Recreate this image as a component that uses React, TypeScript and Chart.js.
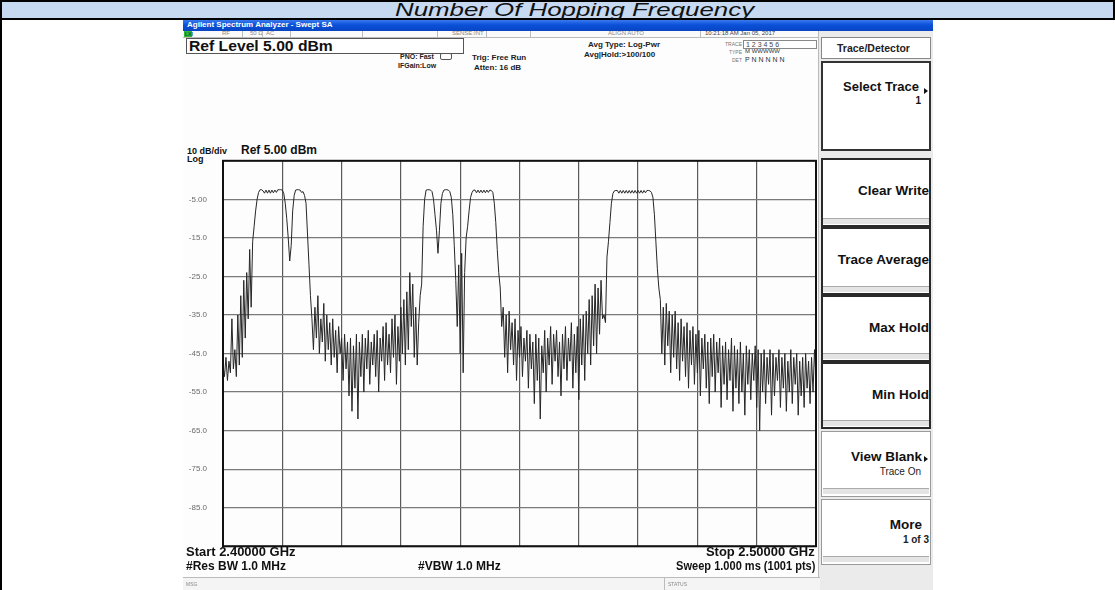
import React, { useEffect, useRef } from "react";
import { Chart, registerables } from "chart.js";

Chart.register(...registerables);

// Sweep: 2.400 GHz to 2.500 GHz, trace read every 0.25 MHz
const START_MHZ = 2400;
const STOP_MHZ = 2500;
const STEP_MHZ = 0.25;

// Trace 1 level (dBm), one value per 0.25 MHz (401 values)
const LEVELS_DBM = [
  -48, -51, -46, -52, -47, -50, -36, -49, -44, -51,
  -35, -48, -30, -46, -26, -41, -24, -36, -18, -33,
  -16, -12, -8, -5, -3.2, -2.5, -2.5, -2.8, -3.4, -2.6,
  -3.4, -2.6, -3.4, -2.6, -3.3, -2.6, -3.2, -2.5, -2.5, -2.5,
  -2.6, -3.5, -6, -10, -15, -21, -17, -8, -4, -2.6,
  -2.5, -2.5, -2.6, -3.2, -3.0, -4, -6, -14, -22, -30,
  -36, -44, -33, -41, -30, -45, -36, -42, -32, -47,
  -35, -44, -37, -48, -36, -46, -39, -50, -38, -45,
  -41, -52, -40, -49, -42, -56, -41, -60, -43, -54,
  -40, -62, -42, -51, -40, -55, -41, -49, -39, -53,
  -42, -48, -40, -51, -39, -55, -41, -47, -38, -52,
  -37, -48, -40, -50, -36, -46, -35, -53, -38, -47,
  -33, -45, -31, -48, -29, -44, -24, -38, -27, -46,
  -33, -48, -37, -30, -27, -12, -5, -2.6, -2.5, -2.5,
  -2.6, -3, -5, -9, -13, -19, -13, -6, -3.5, -2.6,
  -2.5, -2.5, -2.6, -3, -4.5, -9, -17, -26, -38, -22,
  -45, -19, -50, -24, -15, -12, -8, -4.5, -3.2, -2.6,
  -2.6, -3.3, -2.6, -3.3, -2.6, -3.3, -2.6, -3.3, -2.6, -3.2,
  -2.6, -2.7, -3.2, -6, -11, -18, -24, -28, -38, -33,
  -46, -35, -50, -34, -44, -37, -48, -36, -52, -39,
  -46, -38, -51, -41, -47, -39, -54, -40, -49, -42,
  -58, -40, -52, -41, -62, -43, -50, -39, -55, -41,
  -48, -38, -53, -40, -47, -39, -51, -42, -56, -40,
  -49, -38, -52, -41, -47, -37, -54, -40, -50, -38,
  -57, -36, -48, -35, -52, -34, -45, -31, -48, -30,
  -43, -27, -45, -28, -40, -26, -36, -35, -37, -20,
  -16, -11, -6, -3.5, -2.8, -2.7, -2.7, -3.4, -2.7, -3.4,
  -2.7, -3.4, -2.7, -3.4, -2.7, -3.4, -2.7, -3.4, -2.7, -3.4,
  -2.7, -3.4, -2.7, -3.4, -2.7, -3.3, -2.7, -2.7, -2.8, -3.2,
  -4.5, -9, -16, -23, -28, -31, -45, -33, -48, -32,
  -43, -34, -50, -35, -46, -34, -49, -37, -52, -36,
  -47, -38, -51, -37, -54, -39, -48, -38, -53, -40,
  -50, -39, -56, -41, -49, -40, -54, -42, -58, -41,
  -51, -40, -55, -42, -50, -41, -59, -43, -53, -42,
  -57, -44, -52, -41, -60, -43, -54, -44, -58, -42,
  -55, -45, -61, -43, -53, -44, -57, -45, -52, -43,
  -59, -44, -65, -45, -55, -44, -58, -46, -53, -44,
  -61, -45, -56, -46, -52, -44, -59, -46, -54, -45,
  -60, -47, -55, -44, -58, -46, -53, -45, -61, -47,
  -56, -46, -59, -45, -54, -47, -58, -46, -55, -44,
  -52,
];

const Y_MAX = 5;
const Y_MIN = -95;
const Y_STEP = 10;
const X_STEP_MHZ = 10;

const SOFTKEYS = [
  { label: "Clear Write", sub: "", top: 158, h: 69, active: true },
  { label: "Trace Average", sub: "", top: 227, h: 68, active: true },
  { label: "Max Hold", sub: "", top: 295, h: 67, active: true },
  { label: "Min Hold", sub: "", top: 362, h: 67, active: true },
  { label: "View Blank", sub: "Trace On", top: 431, h: 66, active: false },
  { label: "More", sub: "1 of 3", top: 499, h: 66, active: false },
];

const FONT = "'Liberation Sans', Arial, sans-serif";

function T(props: { x: number; y: number; size: number; bold?: boolean; color?: string; right?: boolean; children: React.ReactNode; italic?: boolean; sx?: number }) {
  const { x, y, size, bold, color, right, children, italic, sx } = props;
  const style: React.CSSProperties = {
    position: "absolute",
    top: y - size * 0.6,
    fontSize: size,
    lineHeight: `${size * 1.2}px`,
    fontWeight: bold ? 700 : 400,
    fontStyle: italic ? "italic" : "normal",
    color: color || "#111",
    whiteSpace: "nowrap",
    fontFamily: FONT,
  };
  if (sx) {
    style.transform = `scaleX(${sx})`;
    style.transformOrigin = right ? "right center" : "left center";
  }
  if (right) style.right = 1115 - x;
  else style.left = x;
  return <div style={style}>{children}</div>;
}

function Box(props: { x: number; y: number; w: number; h: number; style?: React.CSSProperties; children?: React.ReactNode }) {
  return (
    <div style={{ position: "absolute", left: props.x, top: props.y, width: props.w, height: props.h, boxSizing: "border-box", ...props.style }}>
      {props.children}
    </div>
  );
}

export default function App() {
  const canvasRef = useRef<HTMLCanvasElement | null>(null);

  useEffect(() => {
    const canvas = canvasRef.current;
    if (!canvas) return;
    const points = LEVELS_DBM.map((v, i) => ({ x: START_MHZ + i * STEP_MHZ, y: v }));
    const frame = {
      id: "frame",
      afterDraw(chart: any) {
        const { ctx, chartArea } = chart;
        ctx.save();
        ctx.strokeStyle = "#111";
        ctx.lineWidth = 2;
        ctx.strokeRect(chartArea.left, chartArea.top, chartArea.right - chartArea.left, chartArea.bottom - chartArea.top);
        ctx.restore();
      },
    };
    const chart = new Chart(canvas, {
      type: "line",
      data: {
        datasets: [
          {
            data: points,
            borderColor: "#262626",
            borderWidth: 1,
            pointRadius: 0,
            tension: 0,
            fill: false,
          },
        ],
      },
      options: {
        animation: false,
        responsive: false,
        maintainAspectRatio: false,
        layout: { padding: { top: 6, right: 2, bottom: 1, left: 0 } },
        plugins: { legend: { display: false }, tooltip: { enabled: false } },
        scales: {
          x: {
            type: "linear",
            min: START_MHZ,
            max: STOP_MHZ,
            ticks: { display: false, stepSize: X_STEP_MHZ },
            grid: { color: "#5a5a5a", lineWidth: 1.2, drawTicks: false },
            border: { display: false },
            afterFit: (s: any) => {
              s.height = 0;
            },
          },
          y: {
            min: Y_MIN,
            max: Y_MAX,
            ticks: {
              stepSize: Y_STEP,
              padding: 16,
              color: "#6a6a6a",
              font: { family: FONT, size: 8 },
              callback: (v: any) => {
                const n = Number(v);
                if (n === Y_MAX || n === Y_MIN) return "";
                return n === -5 ? n.toFixed(2) : n.toFixed(1);
              },
            },
            grid: { color: "#7a7a7a", lineWidth: 1.2, drawTicks: false },
            border: { display: false },
            afterFit: (s: any) => {
              s.width = 40;
            },
          },
        },
      },
      plugins: [frame],
    } as any);
    return () => chart.destroy();
  }, []);

  return (
    <div style={{ position: "relative", width: 1115, height: 590, overflow: "hidden", background: "#fff", fontFamily: FONT }}>
      <style>{`body{margin:0}`}</style>
      {/* table header */}
      <Box x={0} y={0} w={1115} h={20} style={{ background: "#C6D9F1", borderTop: "2px solid #000", borderBottom: "2px solid #000", borderLeft: "2px solid #000", borderRight: "2px solid #000" }} />
      <Box x={0} y={0} w={2} h={590} style={{ background: "#000" }} />
      <T x={395} y={10} size={19} italic sx={1.36}>Number Of Hopping Frequency</T>

      {/* analyzer screenshot */}
      <Box x={183} y={20} w={750} h={570} style={{ background: "#fdfdfd" }} />
      <Box x={183} y={20} w={750} h={11} style={{ background: "linear-gradient(180deg,#3a7af0 0%,#0a50d8 45%,#0846c4 100%)" }} />
      <T x={187} y={25} size={8} bold color="#fff">Agilent Spectrum Analyzer - Swept SA</T>

      {/* status row */}
      <Box x={183} y={31} w={637} h={7} style={{ borderBottom: "1px solid #bbb", background: "#fafafa" }} />
      <Box x={184} y={31} w={8} h={6} style={{ background: "#36b536" }} />
      <T x={185} y={34} size={5} bold color="#063">LXI</T>
      <T x={222} y={34} size={6} color="#888">RF</T>
      <Box x={242} y={31} w={1} h={7} style={{ background: "#bbb" }} />
      <T x={250} y={34} size={6} color="#888">50 Ω</T>
      <Box x={262} y={31} w={1} h={7} style={{ background: "#bbb" }} />
      <T x={266} y={34} size={6} color="#888">AC</T>
      <Box x={290} y={31} w={1} h={7} style={{ background: "#bbb" }} />
      <Box x={362} y={31} w={1} h={7} style={{ background: "#bbb" }} />
      <Box x={437} y={31} w={1} h={7} style={{ background: "#bbb" }} />
      <T x={452} y={34} size={6} color="#888">SENSE:INT</T>
      <Box x={486} y={31} w={1} h={7} style={{ background: "#bbb" }} />
      <Box x={530} y={31} w={1} h={7} style={{ background: "#bbb" }} />
      <T x={608} y={34} size={6} color="#888">ALIGN AUTO</T>
      <Box x={700} y={31} w={1} h={7} style={{ background: "#bbb" }} />
      <T x={705} y={34} size={6} color="#444">10:21:18 AM Jan 05, 2017</T>

      {/* ref level box */}
      <Box x={186} y={38} w={278} h={16} style={{ border: "1px solid #555", background: "#fff" }} />
      <T x={189} y={46} size={14} bold sx={1.12}>Ref Level 5.00 dBm</T>

      <T x={400} y={57} size={7} bold color="#222">PNO: Fast</T>
      <Box x={440} y={53} w={12} h={7} style={{ border: "1px solid #555", borderRadius: 2, background: "#fff" }} />
      <T x={398} y={66} size={7} bold color="#222">IFGain:Low</T>
      <T x={472} y={58} size={8} bold color="#222">Trig: Free Run</T>
      <T x={474} y={68} size={8} bold color="#222">Atten: 16 dB</T>
      <T x={588} y={45} size={8} bold color="#222">Avg Type: Log-Pwr</T>
      <T x={584} y={55} size={8} bold color="#222">Avg|Hold:&gt;100/100</T>

      <T x={742} y={44} size={5} right color="#777">TRACE</T>
      <Box x={743} y={40} w={74} h={9} style={{ border: "1px solid #888", background: "#fff" }} />
      <T x={746} y={45} size={7} color="#444">1 2 3 4 5 6</T>
      <T x={742} y={52} size={5} right color="#777">TYPE</T>
      <T x={745} y={52} size={6} color="#333">M WWWWW</T>
      <T x={742} y={60} size={5} right color="#777">DET</T>
      <T x={745} y={60} size={7} color="#333">P N N N N N</T>

      {/* softkey panel */}
      <Box x={818} y={31} w={115} h={559} style={{ background: "#ebebeb", borderLeft: "1px solid #bbb" }} />
      <Box x={821} y={37} w={110} h={22} style={{ border: "1px solid #888", background: "#fff" }} />
      <T x={837} y={48} size={10.5} bold color="#222">Trace/Detector</T>
      <Box x={821} y={61} w={110} h={90} style={{ border: "2px solid #333", background: "#fff" }} />
      <T x={919} y={87} size={13} right bold color="#111">Select Trace</T>
      <div style={{ position: "absolute", left: 924, top: 88, width: 0, height: 0, borderTop: "3px solid transparent", borderBottom: "3px solid transparent", borderLeft: "4px solid #111" }} />
      <T x={921} y={101} size={10} right bold color="#111">1</T>
      {SOFTKEYS.map((k) => (
        <React.Fragment key={k.label}>
          <Box x={821} y={k.top} w={110} h={k.h} style={{ border: k.active ? "2px solid #2a2a2a" : "1px solid #9a9a9a", background: "#fff" }} />
          <Box x={823} y={k.top + k.h - 9} w={106} h={6} style={{ background: "#e4e4e4", borderTop: "1px solid #aaa" }} />
          <T x={k.sub ? 922 : 929} y={k.sub ? k.top + 26 : k.top + 33} size={13.5} right bold color="#111">{k.label}</T>
          {k.sub ? <T x={k.label === "More" ? 929 : 921} y={k.top + 41} size={10} right bold={k.label === "More"} color="#222">{k.sub}</T> : null}
        </React.Fragment>
      ))}
      <div style={{ position: "absolute", left: 924, top: 456, width: 0, height: 0, borderTop: "3px solid transparent", borderBottom: "3px solid transparent", borderLeft: "4px solid #111" }} />

      {/* plot labels */}
      <T x={187} y={151} size={9} bold color="#111">10 dB/div</T>
      <T x={187} y={159} size={9} bold color="#111">Log</T>
      <T x={241} y={150} size={12} bold color="#111">Ref 5.00 dBm</T>

      <canvas ref={canvasRef} width={635} height={427} style={{ position: "absolute", left: 183, top: 140, width: 635, height: 427 }} />

      <T x={186} y={552} size={12} bold color="#111" sx={1.08}>Start 2.40000 GHz</T>
      <T x={815} y={552} size={12} right bold color="#111" sx={1.08}>Stop 2.50000 GHz</T>
      <T x={186} y={566} size={12} bold color="#111">#Res BW 1.0 MHz</T>
      <T x={418} y={566} size={12} bold color="#111">#VBW 1.0 MHz</T>
      <T x={815} y={566} size={12} right bold color="#111" sx={0.92}>Sweep  1.000 ms (1001 pts)</T>

      <Box x={183} y={577} w={637} h={13} style={{ borderTop: "1px solid #bbb", background: "#f4f4f4" }} />
      <Box x={664} y={577} w={1} h={13} style={{ background: "#bbb" }} />
      <T x={186} y={584} size={5} color="#888">MSG</T>
      <T x={668} y={584} size={5} color="#888">STATUS</T>
    </div>
  );
}
